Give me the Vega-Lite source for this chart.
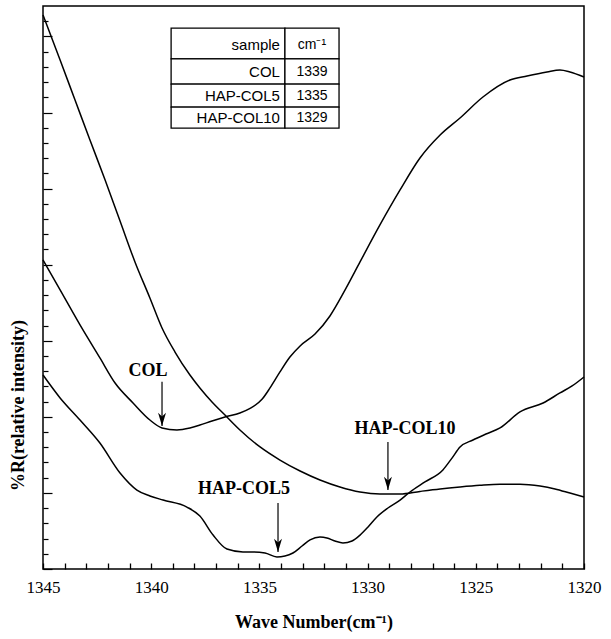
{
  "$schema": "https://vega.github.io/schema/vega-lite/v6.json",
  "width": 541,
  "height": 563,
  "autosize": "none",
  "padding": {"left": 43, "top": 6, "right": 27, "bottom": 70},
  "background": "white",
  "config": {
    "view": {"stroke": "black", "strokeWidth": 1.5},
    "font": "Liberation Serif"
  },
  "datasets": {
    "curves": [
      {"series": "HAP-COL10", "wn": 1345.0, "r": 36.41},
      {"series": "HAP-COL10", "wn": 1344.21, "r": 33.45},
      {"series": "HAP-COL10", "wn": 1343.52, "r": 30.82},
      {"series": "HAP-COL10", "wn": 1342.83, "r": 28.19},
      {"series": "HAP-COL10", "wn": 1342.13, "r": 25.57},
      {"series": "HAP-COL10", "wn": 1341.44, "r": 22.87},
      {"series": "HAP-COL10", "wn": 1340.75, "r": 20.18},
      {"series": "HAP-COL10", "wn": 1340.06, "r": 17.81},
      {"series": "HAP-COL10", "wn": 1339.5, "r": 15.84},
      {"series": "HAP-COL10", "wn": 1338.9, "r": 14.26},
      {"series": "HAP-COL10", "wn": 1338.21, "r": 12.75},
      {"series": "HAP-COL10", "wn": 1337.75, "r": 11.9},
      {"series": "HAP-COL10", "wn": 1337.19, "r": 10.98},
      {"series": "HAP-COL10", "wn": 1336.59, "r": 10.12},
      {"series": "HAP-COL10", "wn": 1335.9, "r": 9.14},
      {"series": "HAP-COL10", "wn": 1334.97, "r": 8.02},
      {"series": "HAP-COL10", "wn": 1334.05, "r": 7.16},
      {"series": "HAP-COL10", "wn": 1333.12, "r": 6.44},
      {"series": "HAP-COL10", "wn": 1332.2, "r": 5.85},
      {"series": "HAP-COL10", "wn": 1331.28, "r": 5.39},
      {"series": "HAP-COL10", "wn": 1330.35, "r": 5.06},
      {"series": "HAP-COL10", "wn": 1329.43, "r": 4.93},
      {"series": "HAP-COL10", "wn": 1328.5, "r": 4.93},
      {"series": "HAP-COL10", "wn": 1327.58, "r": 5.1},
      {"series": "HAP-COL10", "wn": 1326.65, "r": 5.26},
      {"series": "HAP-COL10", "wn": 1325.73, "r": 5.39},
      {"series": "HAP-COL10", "wn": 1324.81, "r": 5.5},
      {"series": "HAP-COL10", "wn": 1323.88, "r": 5.57},
      {"series": "HAP-COL10", "wn": 1322.96, "r": 5.57},
      {"series": "HAP-COL10", "wn": 1322.03, "r": 5.45},
      {"series": "HAP-COL10", "wn": 1321.34, "r": 5.26},
      {"series": "HAP-COL10", "wn": 1320.65, "r": 4.99},
      {"series": "HAP-COL10", "wn": 1320.0, "r": 4.73},

      {"series": "COL", "wn": 1345.0, "r": 20.31},
      {"series": "COL", "wn": 1344.21, "r": 18.34},
      {"series": "COL", "wn": 1343.29, "r": 16.04},
      {"series": "COL", "wn": 1342.37, "r": 13.87},
      {"series": "COL", "wn": 1341.67, "r": 12.22},
      {"series": "COL", "wn": 1340.84, "r": 10.91},
      {"series": "COL", "wn": 1340.06, "r": 9.79},
      {"series": "COL", "wn": 1339.5, "r": 9.27},
      {"series": "COL", "wn": 1338.81, "r": 9.14},
      {"series": "COL", "wn": 1338.21, "r": 9.27},
      {"series": "COL", "wn": 1337.75, "r": 9.46},
      {"series": "COL", "wn": 1337.19, "r": 9.73},
      {"series": "COL", "wn": 1336.59, "r": 9.99},
      {"series": "COL", "wn": 1335.9, "r": 10.25},
      {"series": "COL", "wn": 1335.43, "r": 10.55},
      {"series": "COL", "wn": 1334.88, "r": 11.15},
      {"series": "COL", "wn": 1334.51, "r": 11.9},
      {"series": "COL", "wn": 1334.05, "r": 12.95},
      {"series": "COL", "wn": 1333.59, "r": 13.93},
      {"series": "COL", "wn": 1333.12, "r": 14.66},
      {"series": "COL", "wn": 1332.43, "r": 15.44},
      {"series": "COL", "wn": 1331.74, "r": 16.63},
      {"series": "COL", "wn": 1331.04, "r": 18.34},
      {"series": "COL", "wn": 1330.35, "r": 20.18},
      {"series": "COL", "wn": 1329.43, "r": 22.61},
      {"series": "COL", "wn": 1328.5, "r": 24.91},
      {"series": "COL", "wn": 1327.58, "r": 27.01},
      {"series": "COL", "wn": 1326.65, "r": 28.52},
      {"series": "COL", "wn": 1325.73, "r": 29.64},
      {"series": "COL", "wn": 1324.67, "r": 31.02},
      {"series": "COL", "wn": 1323.42, "r": 32.14},
      {"series": "COL", "wn": 1322.63, "r": 32.4},
      {"series": "COL", "wn": 1321.71, "r": 32.66},
      {"series": "COL", "wn": 1321.11, "r": 32.79},
      {"series": "COL", "wn": 1320.65, "r": 32.66},
      {"series": "COL", "wn": 1320.0, "r": 32.33},

      {"series": "HAP-COL5", "wn": 1345.0, "r": 12.75},
      {"series": "HAP-COL5", "wn": 1344.21, "r": 11.24},
      {"series": "HAP-COL5", "wn": 1343.29, "r": 9.79},
      {"series": "HAP-COL5", "wn": 1342.37, "r": 8.28},
      {"series": "HAP-COL5", "wn": 1341.44, "r": 6.31},
      {"series": "HAP-COL5", "wn": 1340.66, "r": 5.19},
      {"series": "HAP-COL5", "wn": 1340.06, "r": 4.8},
      {"series": "HAP-COL5", "wn": 1339.45, "r": 4.53},
      {"series": "HAP-COL5", "wn": 1338.35, "r": 4.07},
      {"series": "HAP-COL5", "wn": 1337.75, "r": 3.48},
      {"series": "HAP-COL5", "wn": 1337.14, "r": 2.23},
      {"series": "HAP-COL5", "wn": 1336.5, "r": 1.31},
      {"series": "HAP-COL5", "wn": 1335.76, "r": 1.12},
      {"series": "HAP-COL5", "wn": 1335.3, "r": 1.12},
      {"series": "HAP-COL5", "wn": 1334.74, "r": 1.05},
      {"series": "HAP-COL5", "wn": 1334.19, "r": 0.79},
      {"series": "HAP-COL5", "wn": 1333.82, "r": 0.85},
      {"series": "HAP-COL5", "wn": 1333.45, "r": 1.05},
      {"series": "HAP-COL5", "wn": 1333.03, "r": 1.51},
      {"series": "HAP-COL5", "wn": 1332.66, "r": 1.91},
      {"series": "HAP-COL5", "wn": 1332.2, "r": 2.1},
      {"series": "HAP-COL5", "wn": 1331.88, "r": 2.04},
      {"series": "HAP-COL5", "wn": 1331.51, "r": 1.84},
      {"series": "HAP-COL5", "wn": 1331.14, "r": 1.71},
      {"series": "HAP-COL5", "wn": 1330.72, "r": 1.84},
      {"series": "HAP-COL5", "wn": 1330.35, "r": 2.23},
      {"series": "HAP-COL5", "wn": 1329.98, "r": 2.76},
      {"series": "HAP-COL5", "wn": 1329.57, "r": 3.42},
      {"series": "HAP-COL5", "wn": 1329.06, "r": 4.01},
      {"series": "HAP-COL5", "wn": 1328.5, "r": 4.53},
      {"series": "HAP-COL5", "wn": 1328.04, "r": 5.06},
      {"series": "HAP-COL5", "wn": 1327.35, "r": 5.72},
      {"series": "HAP-COL5", "wn": 1326.52, "r": 6.51},
      {"series": "HAP-COL5", "wn": 1326.1, "r": 7.29},
      {"series": "HAP-COL5", "wn": 1325.73, "r": 8.02},
      {"series": "HAP-COL5", "wn": 1325.13, "r": 8.48},
      {"series": "HAP-COL5", "wn": 1324.53, "r": 8.87},
      {"series": "HAP-COL5", "wn": 1323.88, "r": 9.27},
      {"series": "HAP-COL5", "wn": 1322.96, "r": 10.32},
      {"series": "HAP-COL5", "wn": 1321.89, "r": 10.91},
      {"series": "HAP-COL5", "wn": 1321.11, "r": 11.57},
      {"series": "HAP-COL5", "wn": 1320.55, "r": 12.03},
      {"series": "HAP-COL5", "wn": 1320.0, "r": 12.62}
    ],
    "cells": [
      {"wn": 1339.08, "wn2": 1333.82, "r": 35.55, "r2": 33.52},
      {"wn": 1333.82, "wn2": 1331.32, "r": 35.55, "r2": 33.52},
      {"wn": 1339.08, "wn2": 1333.82, "r": 33.52, "r2": 31.87},
      {"wn": 1333.82, "wn2": 1331.32, "r": 33.52, "r2": 31.87},
      {"wn": 1339.08, "wn2": 1333.82, "r": 31.87, "r2": 30.36},
      {"wn": 1333.82, "wn2": 1331.32, "r": 31.87, "r2": 30.36},
      {"wn": 1339.08, "wn2": 1333.82, "r": 30.36, "r2": 28.98},
      {"wn": 1333.82, "wn2": 1331.32, "r": 30.36, "r2": 28.98}
    ],
    "tabletext": [
      {"col": 1, "text": "sample", "wn": 1334.05, "r": 34.44},
      {"col": 1, "text": "COL", "wn": 1334.05, "r": 32.66},
      {"col": 1, "text": "HAP-COL5", "wn": 1334.05, "r": 31.09},
      {"col": 1, "text": "HAP-COL10", "wn": 1334.05, "r": 29.64},
      {"col": 2, "text": "cm⁻¹", "wn": 1332.57, "r": 34.44},
      {"col": 2, "text": "1339", "wn": 1332.57, "r": 32.66},
      {"col": 2, "text": "1335", "wn": 1332.57, "r": 31.09},
      {"col": 2, "text": "1329", "wn": 1332.57, "r": 29.64}
    ],
    "notes": [
      {"text": "COL", "wn": 1340.15, "r": 13.0},
      {"text": "HAP-COL10", "wn": 1328.27, "r": 9.2},
      {"text": "HAP-COL5", "wn": 1335.71, "r": 5.26}
    ],
    "arrows": [
      {"label": "COL", "wn": 1339.5, "r": 9.4, "r2": 12.3},
      {"label": "HAP-COL10", "wn": 1329.06, "r": 5.19, "r2": 8.35},
      {"label": "HAP-COL5", "wn": 1334.14, "r": 1.12, "r2": 4.34}
    ]
  },
  "encoding": {
    "x": {
      "field": "wn", "type": "quantitative",
      "scale": {"domain": [1320, 1345], "reverse": true, "nice": false, "zero": false},
      "axis": {
        "title": "Wave Number(cm⁻¹)",
        "titleFont": "Liberation Serif", "titleFontWeight": "bold", "titleFontSize": 18, "titleColor": "black",
        "titleBaseline": "middle", "titleY": 59,
        "values": [1320,1321,1322,1323,1324,1325,1326,1327,1328,1329,1330,1331,1332,1333,1334,1335,1336,1337,1338,1339,1340,1341,1342,1343,1344,1345],
        "labelExpr": "datum.value % 5 === 0 ? '' + datum.value : ''",
        "labelFont": "Liberation Serif", "labelFontSize": 17, "labelColor": "black",
        "labelPadding": 10, "labelFlush": false, "labelOverlap": false,
        "offset": -6,
        "ticks": true, "zindex": 1,
        "tickColor": "black", "tickWidth": 1.3,
        "tickSize": 6,
        "domain": false, "grid": false
      }
    },
    "y": {
      "field": "r", "type": "quantitative",
      "scale": {"domain": [0, 37], "nice": false, "zero": false},
      "axis": {
        "title": "%R(relative intensity)",
        "titleFont": "Liberation Serif", "titleFontWeight": "bold", "titleFontSize": 18, "titleColor": "black",
        "titleAngle": -90, "titleX": -25, "titleY": 399, "titleAlign": "center", "titleBaseline": "middle",
        "values": [0,1,2,3,4,5,6,7,8,9,10,11,12,13,14,15,16,17,18,19,20,21,22,23,24,25,26,27,28,29,30,31,32,33,34,35,36],
        "labels": false,
        "tickColor": "black", "tickWidth": 1.2,
        "tickSize": {"condition": {"test": "datum.value % 5 === 0", "value": -9}, "value": -5},
        "domain": false, "grid": false
      }
    }
  },
  "layer": [
    {
      "data": {"name": "curves"},
      "mark": {"type": "line", "color": "black", "strokeWidth": 1.5, "interpolate": "monotone"},
      "encoding": {"detail": {"field": "series"}}
    },
    {
      "data": {"name": "cells"},
      "mark": {"type": "rect", "fill": "white", "stroke": "black", "strokeWidth": 1.3},
      "encoding": {"x2": {"field": "wn2"}, "y2": {"field": "r2"}}
    },
    {
      "data": {"name": "tabletext"},
      "transform": [{"filter": "datum.col === 1"}],
      "mark": {"type": "text", "align": "right", "baseline": "middle", "font": "Liberation Sans", "fontSize": 15, "color": "black"},
      "encoding": {"text": {"field": "text"}}
    },
    {
      "data": {"name": "tabletext"},
      "transform": [{"filter": "datum.col === 2"}],
      "mark": {"type": "text", "align": "center", "baseline": "middle", "font": "Liberation Sans", "fontSize": 14, "color": "black"},
      "encoding": {"text": {"field": "text"}}
    },
    {
      "data": {"name": "notes"},
      "mark": {"type": "text", "align": "center", "baseline": "middle", "font": "Liberation Serif", "fontWeight": "bold", "fontSize": 18, "color": "black"},
      "encoding": {"text": {"field": "text"}}
    },
    {
      "data": {"name": "arrows"},
      "mark": {"type": "rule", "color": "black", "strokeWidth": 1.2},
      "encoding": {"y2": {"field": "r2"}}
    },
    {
      "data": {"name": "arrows"},
      "mark": {"type": "point", "filled": true, "color": "black", "opacity": 1, "size": 700, "shape": "M0,0 L-0.3,-1 L0,-0.72 L0.3,-1 Z"},
      "encoding": {}
    }
  ]
}
